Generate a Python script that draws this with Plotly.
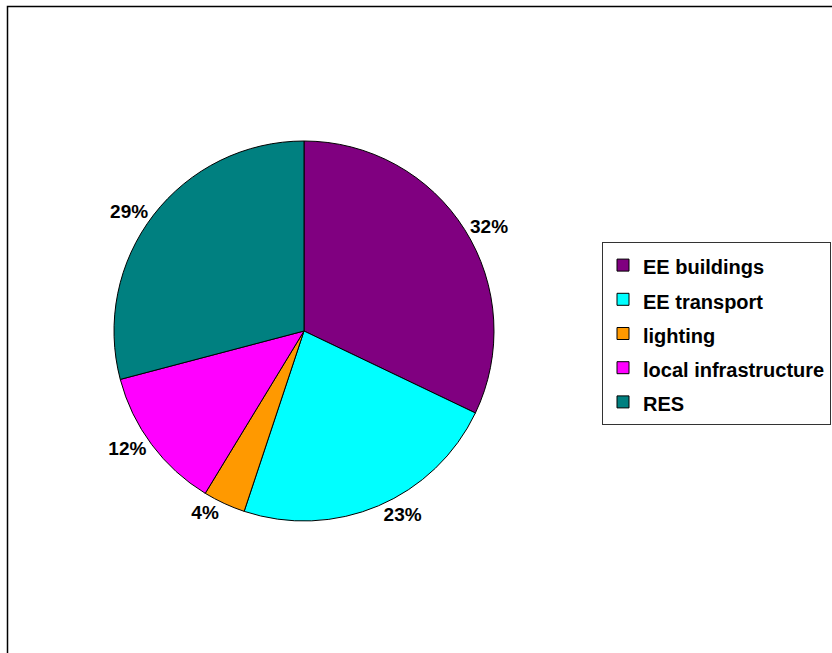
import plotly.graph_objects as go

categories = ["EE buildings", "EE transport", "lighting", "local infrastructure", "RES"]
values = [32.1, 23.0, 3.6, 12.2, 29.1]
colors = ["#800080", "#00FFFF", "#FF9900", "#FF00FF", "#008080"]

W, H = 832, 653
legend_labels = ["<span style='font-size:20px'>%s</span>" % c for c in categories]

fig = go.Figure(go.Pie(
    labels=legend_labels,
    values=values,
    sort=False,
    direction="clockwise",
    rotation=0,
    marker=dict(colors=colors, line=dict(color="black", width=1)),
    texttemplate="%{percent:.0%}",
    textposition="outside",
    textfont=dict(family="Liberation Sans, Arial, sans-serif", size=19, color="black", weight="bold"),
    domain=dict(x=[114 / W, 494 / W], y=[132 / H, 512 / H]),
    hoverinfo="skip",
))

fig.update_layout(
    width=W, height=H,
    margin=dict(l=0, r=0, t=0, b=0),
    paper_bgcolor="white",
    plot_bgcolor="white",
    showlegend=True,
    legend=dict(
        x=602 / W, xanchor="left",
        y=1 - 242 / H, yanchor="top",
        bgcolor="white",
        bordercolor="#333333",
        borderwidth=1,
        font=dict(family="Liberation Sans, Arial, sans-serif", size=24, color="black", weight="bold"),
        itemclick=False, itemdoubleclick=False,
    ),
    shapes=[dict(
        type="rect", xref="paper", yref="paper",
        x0=7.5 / W, x1=1.02, y0=-0.02, y1=1 - 6.5 / H,
        line=dict(color="black", width=1.5),
        fillcolor="rgba(0,0,0,0)",
    )],
)

fig.write_html("out.html", config={"displayModeBar": False},
               post_script="document.body.style.margin='0';document.body.style.overflow='hidden';")
